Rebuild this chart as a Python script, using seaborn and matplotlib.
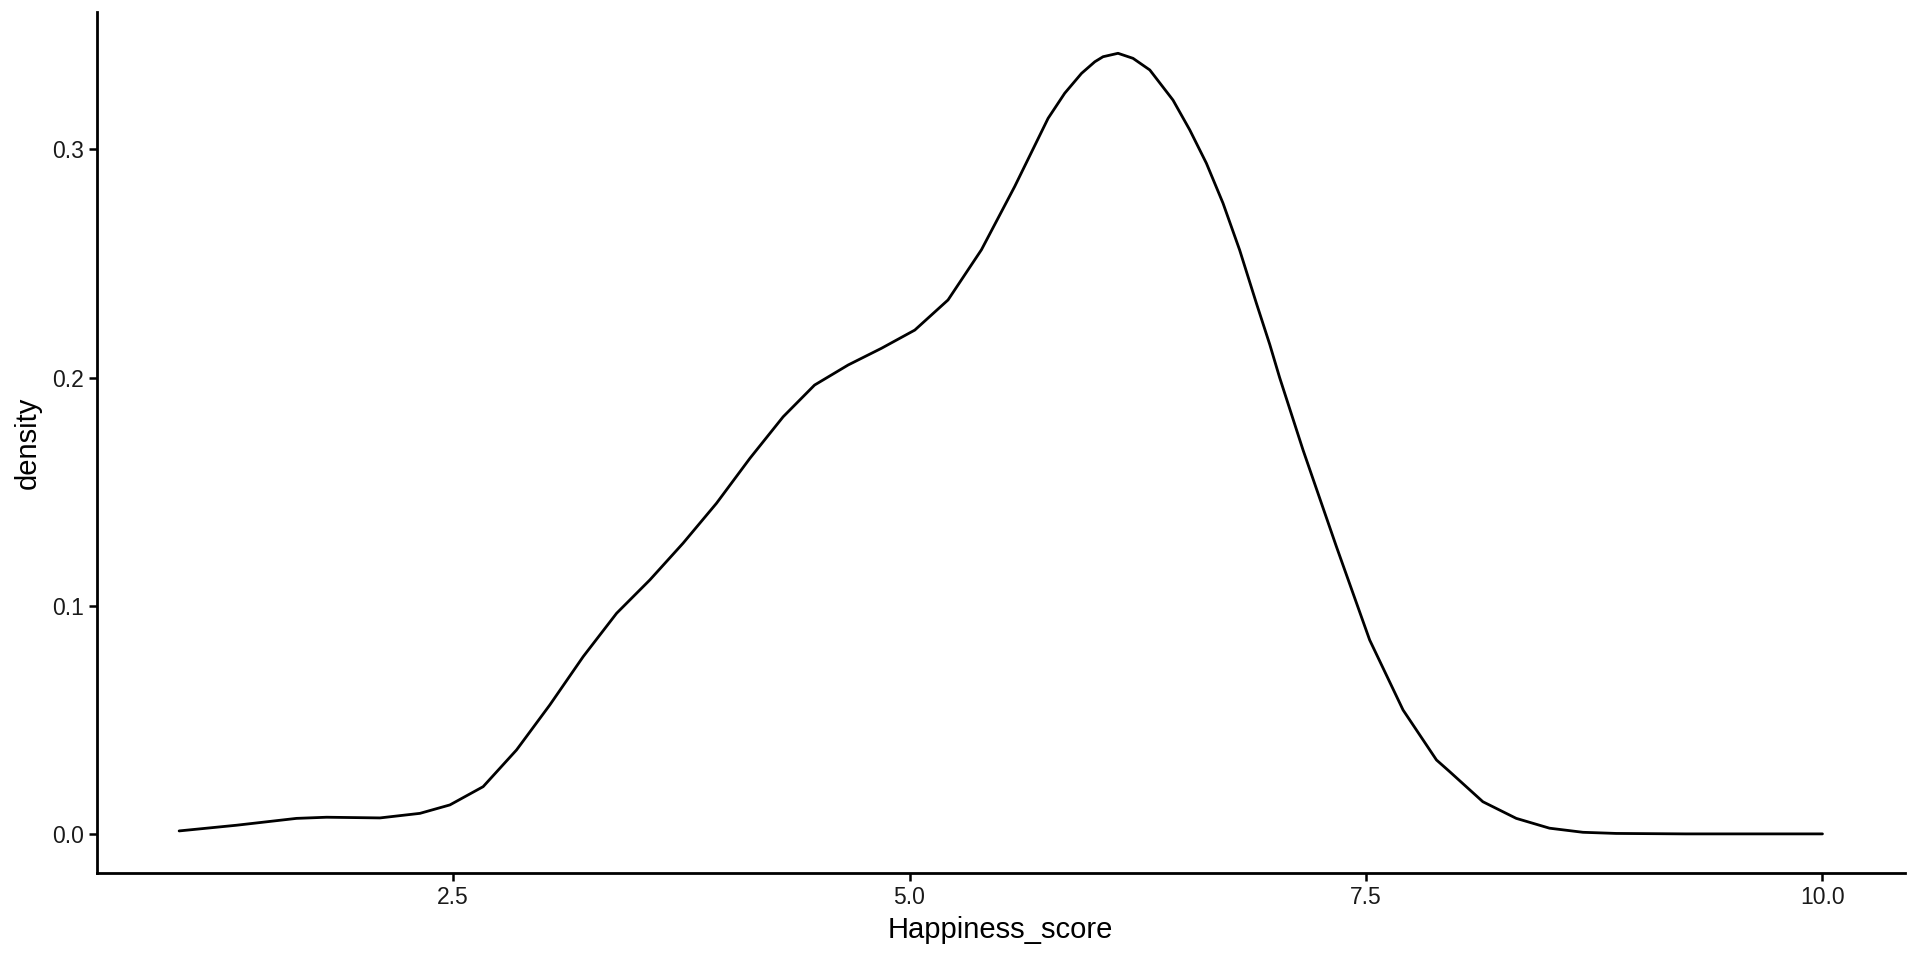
import numpy as np
import pandas as pd
import seaborn as sns
import matplotlib.pyplot as plt

# density curve (Happiness_score vs density)
score = [1.0, 1.315, 1.643, 1.808, 2.10, 2.319, 2.483, 2.665, 2.848, 3.03,
         3.213, 3.396, 3.578, 3.76, 3.943, 4.126, 4.308, 4.48, 4.664, 4.846,
         5.029, 5.211, 5.394, 5.576, 5.759, 5.85, 5.942, 6.015, 6.06, 6.142,
         6.224, 6.316, 6.443, 6.535, 6.626, 6.717, 6.808, 6.9, 6.973, 7.027,
         7.155, 7.338, 7.52, 7.703, 7.886, 7.958, 8.14, 8.323, 8.505, 8.688,
         8.87, 9.25, 10.0]
density = [0.0013, 0.0038, 0.0068, 0.0073, 0.0070, 0.0090, 0.0127, 0.0207,
           0.0368, 0.0565, 0.0777, 0.0967, 0.1113, 0.1274, 0.1449, 0.1646,
           0.1828, 0.1967, 0.2055, 0.2128, 0.2208, 0.2340, 0.2560, 0.2837,
           0.3136, 0.3246, 0.3333, 0.3384, 0.3406, 0.3421, 0.3399, 0.3348,
           0.3216, 0.3085, 0.2939, 0.2764, 0.2559, 0.2325, 0.2145, 0.2000,
           0.1683, 0.1259, 0.0850, 0.0543, 0.0324, 0.0273, 0.0141, 0.0068,
           0.0025, 0.0007, 0.0002, 0.0000, 0.0000]

x_ticks = [2.5, 5.0, 7.5, 10.0]
y_ticks = [0.0, 0.1, 0.2, 0.3]

df = pd.DataFrame({"Happiness_score": score, "density": density})

sns.set_theme(style="ticks")
plt.rcParams["font.family"] = ["Liberation Sans", "DejaVu Sans"]

fig = plt.figure(figsize=(19.2, 9.6), dpi=100)
ax = fig.add_axes([0.0505, 0.0906, 0.9415, 0.8969])

sns.lineplot(data=df, x="Happiness_score", y="density", color="black",
             linewidth=2.0, ax=ax)

ax.set_xlim(0.55, 10.45)
ax.set_ylim(-0.01715, 0.3602)
ax.set_xticks(x_ticks)
ax.set_xticklabels(["2.5", "5.0", "7.5", "10.0"])
ax.set_yticks(y_ticks)
ax.set_yticklabels(["0.0", "0.1", "0.2", "0.3"])

sns.despine(ax=ax)
for s in ["left", "bottom"]:
    ax.spines[s].set_linewidth(2.0)
    ax.spines[s].set_color("black")
ax.tick_params(axis="both", length=5.5, width=1.8, color="black",
               labelsize=16.5, labelcolor="#1a1a1a", pad=4)
ax.set_xlabel("Happiness_score", fontsize=21, color="black", labelpad=5)
ax.set_ylabel("density", fontsize=21, color="black", labelpad=7)

fig.savefig("out.png", dpi=100, facecolor="white")
